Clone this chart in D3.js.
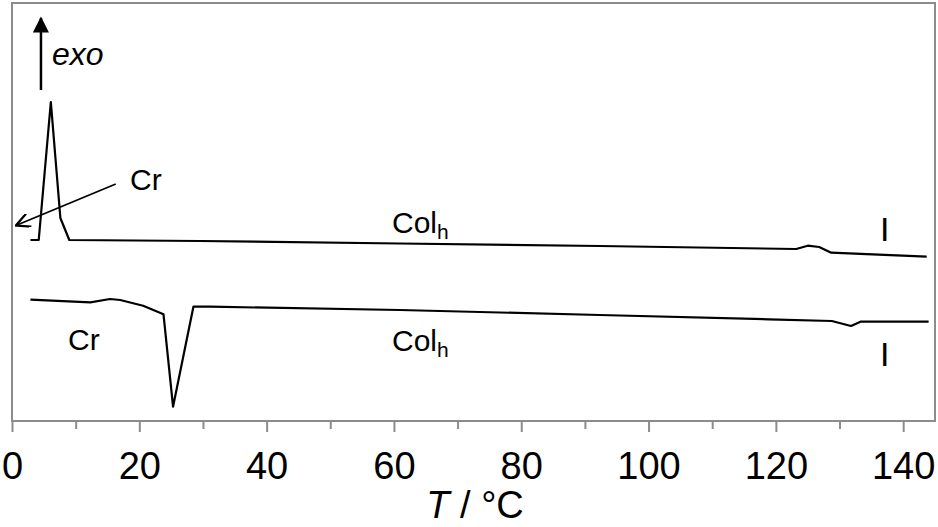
<!DOCTYPE html>
<html>
<head>
<meta charset="utf-8">
<script src="https://cdn.jsdelivr.net/npm/d3@7"></script>
<style>
  body { margin: 0; background: #fff; }
  text { font-family: "Liberation Sans", Arial, sans-serif; fill: #000; }
</style>
</head>
<body>
<script>
// cooling trace (upper) and heating trace (lower), T in °C, heat flow in a.u.
var coolT = [2.9, 4.2, 6.1, 7.6, 9.0, 29.5, 60.9, 92.3, 123.2, 125.0, 126.8, 128.7, 143.7];
var coolQ = [18.1, 18.1, 31.9, 20.3, 18.1, 18.0, 17.75, 17.5, 17.2, 17.53, 17.4, 16.83, 16.43];
var heatT = [2.9, 12.3, 15.4, 17.0, 20.6, 23.8, 25.3, 28.5, 31.1, 60.9, 92.3, 118.9, 128.8, 131.8, 133.3, 144.0];
var heatQ = [12.13, 11.87, 12.2, 12.1, 11.53, 10.67, 1.43, 11.43, 11.43, 11.1, 10.6, 10.17, 10.0, 9.5, 9.93, 9.93];
var xTicks = [0, 20, 40, 60, 80, 100, 120, 140];
var xMinor = [10, 30, 50, 70, 90, 110, 130];

var width = 938, height = 527;
var svg = d3.select("body").append("svg")
    .attr("width", width)
    .attr("height", height);

var x = d3.scaleLinear().domain([0, 145]).range([12, 935]);
var y = d3.scaleLinear().domain([0, 41.8]).range([421, 3]);

// frame
svg.append("rect")
    .attr("x", x(0)).attr("y", y(41.8))
    .attr("width", x(145) - x(0)).attr("height", y(0) - y(41.8))
    .attr("fill", "none").attr("stroke", "#8c8c8c").attr("stroke-width", 2);

// x axis, major + minor ticks
var axis = svg.append("g").attr("transform", "translate(0," + y(0) + ")");
axis.call(d3.axisBottom(x).tickValues(xTicks).tickSize(11).tickPadding(20).tickFormat(d3.format("d")));
axis.append("g").call(d3.axisBottom(x).tickValues(xMinor).tickSize(8).tickFormat(""));
axis.selectAll(".domain").remove();
axis.selectAll("line").attr("stroke", "#8c8c8c").attr("stroke-width", 2);
axis.selectAll("text").style("font-size", "38px").attr("fill", "#000")
    .style("font-family", "'Liberation Sans', Arial, sans-serif");

var title = svg.append("text")
    .attr("x", 475).attr("y", 518)
    .attr("text-anchor", "middle")
    .style("font-size", "38px");
title.append("tspan").style("font-style", "italic").text("T");
title.append("tspan").text(" / °C");

// curves
var line = d3.line()
    .x(function (d) { return x(d[0]); })
    .y(function (d) { return y(d[1]); });

svg.append("path")
    .datum(d3.zip(coolT, coolQ))
    .attr("d", line)
    .attr("fill", "none").attr("stroke", "#000").attr("stroke-width", 2.2)
    .attr("stroke-linejoin", "round");
svg.append("path")
    .datum(d3.zip(heatT, heatQ))
    .attr("d", line)
    .attr("fill", "none").attr("stroke", "#000").attr("stroke-width", 2.2)
    .attr("stroke-linejoin", "round");

// markers
var defs = svg.append("defs");
defs.append("marker").attr("id", "solid")
    .attr("viewBox", "0 0 10 10").attr("refX", 9).attr("refY", 5)
    .attr("markerUnits", "userSpaceOnUse")
    .attr("markerWidth", 18).attr("markerHeight", 16).attr("orient", "auto")
    .append("path").attr("d", "M0,0L10,5L0,10Z").attr("fill", "#000");
defs.append("marker").attr("id", "open")
    .attr("viewBox", "0 0 10 10").attr("refX", 9).attr("refY", 5)
    .attr("markerUnits", "userSpaceOnUse")
    .attr("markerWidth", 16).attr("markerHeight", 14).attr("orient", "auto")
    .append("path").attr("d", "M0,0L10,5L0,10").attr("fill", "none")
    .attr("stroke", "#000").attr("stroke-width", 1.6);

// exo arrow
svg.append("line")
    .attr("x1", x(4.55)).attr("y1", y(33.1))
    .attr("x2", x(4.55)).attr("y2", y(40.3))
    .attr("stroke", "#000").attr("stroke-width", 2.5)
    .attr("marker-end", "url(#solid)");
svg.append("text")
    .attr("x", 52).attr("y", 65)
    .style("font-size", "32px").style("font-style", "italic")
    .text("exo");

// Cr arrow (cooling)
svg.append("line")
    .attr("x1", x(16.3)).attr("y1", y(23.7))
    .attr("x2", x(0.8)).attr("y2", y(19.6))
    .attr("stroke", "#000").attr("stroke-width", 1.8)
    .attr("marker-end", "url(#open)");

function label(tx, ty, txt, sub, size) {
    var t = svg.append("text").attr("x", tx).attr("y", ty).style("font-size", (size || 30) + "px").text(txt);
    if (sub) t.append("tspan").attr("dy", 6).style("font-size", "21px").text(sub);
    return t;
}
label(130, 190, "Cr");
label(392, 233, "Col", "h");
label(880, 241, "I", null, 34);
label(68, 350, "Cr");
label(392, 351, "Col", "h");
label(880, 366, "I", null, 34);
</script>
</body>
</html>
